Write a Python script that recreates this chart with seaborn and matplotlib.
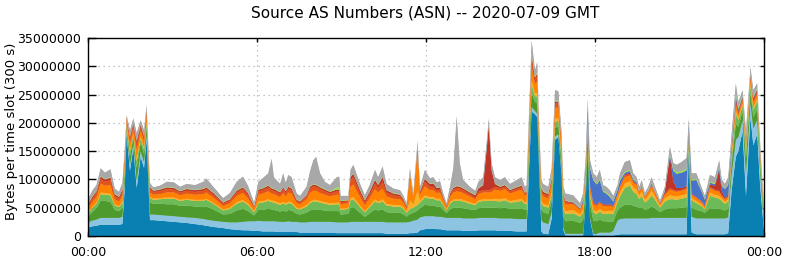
import numpy as np
import pandas as pd
import matplotlib
matplotlib.use("Agg")
import matplotlib.pyplot as plt
import seaborn as sns
import seaborn.objects as so

# time of each sample (hours since 00:00 GMT)
hours = [0.00, 0.15, 0.30, 0.45, 0.60, 0.80, 0.95, 1.10, 1.22, 1.30,
         1.37, 1.49, 1.61, 1.73, 1.87, 1.99, 2.08, 2.20, 2.32, 2.56,
         2.80, 3.05, 3.27, 3.50, 3.80, 4.10, 4.20, 4.45, 4.80, 5.04,
         5.28, 5.50, 5.68, 5.90, 6.05, 6.20, 6.40, 6.52, 6.60, 6.82,
         6.93, 7.02, 7.11, 7.23, 7.41, 7.53, 7.76, 7.88, 8.00, 8.10,
         8.24, 8.41, 8.59, 8.83, 8.92, 8.97, 9.24, 9.32, 9.42, 9.66,
         9.83, 10.00, 10.19, 10.30, 10.46, 10.60, 10.84, 11.08, 11.20, 11.31,
         11.43, 11.55, 11.70, 11.79, 11.96, 12.14, 12.26, 12.38, 12.50, 12.61,
         12.73, 12.85, 12.97, 13.09, 13.20, 13.32, 13.56, 13.75, 13.86, 14.03,
         14.15, 14.23, 14.33, 14.45, 14.63, 14.80, 14.98, 15.22, 15.40, 15.51,
         15.57, 15.66, 15.75, 15.87, 15.95, 16.03, 16.10, 16.16, 16.34, 16.46,
         16.58, 16.70, 16.81, 16.88, 16.95, 17.23, 17.47, 17.58, 17.67, 17.74,
         17.82, 17.94, 18.06, 18.17, 18.29, 18.41, 18.53, 18.65, 18.80, 18.89,
         19.06, 19.24, 19.36, 19.48, 19.57, 19.66, 19.77, 19.89, 20.01, 20.13,
         20.31, 20.48, 20.66, 20.78, 20.90, 21.08, 21.25, 21.33, 21.43, 21.60,
         21.78, 21.90, 22.08, 22.26, 22.41, 22.50, 22.61, 22.73, 22.85, 23.00,
         23.09, 23.24, 23.36, 23.52, 23.62, 23.76, 23.86, 24.00]

# bytes per slot, in millions, one list per source AS (bottom to top of stack)
as_dark_blue = [1.5, 1.7, 1.8, 2.0, 2.0, 2.0, 2.0, 2.0, 2.1, 8.0,
                18.0, 11.5, 15.5, 8.5, 14.0, 12.0, 17.0, 2.8, 2.8, 2.7,
                2.6, 2.5, 2.4, 2.3, 2.1, 1.9, 1.8, 1.6, 1.4, 1.2,
                1.1, 1.0, 1.0, 0.9, 0.9, 0.8, 0.8, 0.8, 0.8, 0.7,
                0.7, 0.7, 0.8, 0.7, 0.7, 0.6, 0.6, 0.6, 0.6, 0.6,
                0.6, 0.6, 0.6, 0.5, 0.5, 0.5, 0.5, 0.5, 0.5, 0.5,
                0.5, 0.5, 0.5, 0.5, 0.5, 0.4, 0.4, 0.4, 0.4, 0.4,
                0.5, 0.5, 0.6, 1.0, 1.2, 1.3, 1.3, 1.2, 1.2, 1.1,
                1.0, 1.0, 1.0, 1.0, 1.0, 0.9, 0.9, 0.9, 1.0, 1.0,
                1.0, 1.0, 1.0, 1.0, 0.9, 0.9, 0.9, 0.8, 0.8, 0.8,
                0.8, 12.0, 22.0, 21.5, 21.0, 10.0, 0.8, 0.4, 0.3, 3.0,
                17.0, 17.5, 11.0, 1.0, 0.1, 0.1, 0.1, 0.1, 6.0, 15.0,
                3.0, 0.1, 0.1, 0.1, 0.1, 0.1, 0.1, 0.1, 0.2, 0.3,
                0.3, 0.3, 0.3, 0.3, 0.3, 0.3, 0.3, 0.3, 0.3, 0.3,
                0.3, 0.3, 0.3, 0.3, 0.3, 0.3, 0.3, 15.0, 0.6, 0.3,
                0.3, 0.3, 0.3, 0.3, 0.3, 0.3, 0.3, 0.5, 8.0, 14.0,
                15.0, 18.5, 7.0, 21.0, 16.0, 18.0, 9.0, 1.0]
as_light_blue = [0.9, 1.0, 1.1, 1.2, 1.2, 1.2, 1.2, 1.2, 1.3, 1.3,
                 0.6, 1.0, 0.8, 1.3, 1.0, 1.0, 0.9, 1.0, 1.0, 1.0,
                 1.0, 1.0, 1.0, 1.0, 1.1, 1.1, 1.1, 1.1, 1.1, 1.2,
                 1.3, 1.5, 1.6, 1.7, 1.8, 1.8, 1.8, 1.8, 1.8, 1.8,
                 1.8, 1.8, 1.8, 1.8, 1.8, 1.8, 1.8, 1.9, 1.9, 1.9,
                 1.9, 1.9, 1.9, 1.9, 1.9, 1.9, 1.9, 2.0, 2.0, 2.0,
                 2.0, 2.0, 2.0, 2.0, 2.0, 2.0, 2.0, 2.0, 2.0, 2.0,
                 2.0, 2.2, 2.3, 2.3, 2.3, 2.2, 2.2, 2.2, 2.2, 2.2,
                 2.2, 2.2, 2.2, 2.2, 2.2, 2.2, 2.2, 2.2, 2.2, 2.2,
                 2.2, 2.2, 2.2, 2.2, 2.2, 2.2, 2.2, 2.2, 2.2, 2.2,
                 2.2, 1.5, 0.8, 0.6, 0.6, 1.0, 2.0, 2.0, 1.8, 1.2,
                 0.6, 0.5, 0.5, 0.4, 0.3, 0.3, 0.3, 0.3, 0.3, 0.3,
                 0.3, 0.3, 0.3, 0.5, 0.5, 0.5, 0.5, 0.8, 2.5, 2.7,
                 2.8, 2.8, 2.8, 2.8, 2.8, 2.8, 2.8, 2.8, 2.9, 2.9,
                 2.9, 2.9, 2.9, 2.9, 2.9, 2.9, 2.9, 0.5, 2.8, 2.8,
                 2.8, 2.8, 2.8, 2.8, 2.8, 2.8, 2.8, 2.8, 2.8, 3.0,
                 2.5, 2.0, 4.0, 2.5, 3.0, 2.5, 2.5, 1.0]
as_dark_green = [1.0, 1.5, 2.0, 3.0, 3.0, 2.8, 1.4, 1.2, 1.5, 1.6,
                 0.6, 1.5, 1.0, 2.2, 1.5, 1.5, 1.3, 2.1, 1.9, 2.0,
                 2.0, 2.1, 1.9, 2.1, 2.0, 2.1, 2.3, 2.0, 1.3, 1.5,
                 2.1, 2.3, 1.8, 1.0, 1.9, 2.0, 2.2, 2.1, 2.0, 1.8,
                 2.0, 1.8, 2.0, 2.0, 1.4, 1.4, 1.7, 2.0, 2.2, 2.2,
                 2.1, 2.0, 1.9, 2.0, 2.0, 1.4, 1.5, 2.5, 2.6, 1.6,
                 0.9, 1.5, 2.2, 2.0, 2.2, 1.8, 1.7, 1.7, 1.4, 1.0,
                 1.4, 1.4, 1.6, 1.6, 2.0, 1.9, 1.9, 1.8, 1.8, 1.3,
                 0.8, 1.5, 1.8, 1.8, 1.8, 1.8, 1.6, 1.5, 1.7, 1.8,
                 1.8, 1.8, 1.8, 1.8, 1.8, 1.9, 1.7, 1.8, 1.9, 1.6,
                 1.6, 2.0, 2.5, 1.6, 1.8, 1.8, 1.9, 1.8, 1.8, 1.9,
                 1.5, 1.4, 1.5, 2.0, 2.2, 2.3, 1.9, 2.4, 2.4, 2.4,
                 2.4, 2.3, 2.2, 2.3, 2.0, 2.0, 1.9, 1.7, 1.8, 2.0,
                 2.4, 2.5, 2.2, 2.1, 1.8, 2.0, 1.5, 1.7, 2.0, 1.7,
                 1.0, 1.5, 1.7, 1.7, 1.7, 1.8, 1.9, 1.0, 1.6, 1.5,
                 1.3, 1.0, 1.8, 1.7, 1.7, 1.6, 1.4, 1.5, 1.8, 2.8,
                 1.8, 1.5, 2.5, 1.8, 2.0, 2.0, 1.6, 1.0]
as_light_green = [0.6, 0.7, 0.8, 1.2, 1.1, 1.2, 0.8, 0.7, 0.9, 0.9,
                  0.4, 0.9, 0.6, 1.2, 0.8, 0.8, 0.8, 0.8, 0.7, 0.8,
                  1.0, 1.0, 0.9, 1.0, 1.0, 1.1, 1.2, 1.0, 0.7, 0.9,
                  1.2, 1.3, 1.1, 0.6, 1.2, 1.3, 1.4, 1.3, 1.3, 1.2,
                  1.3, 1.2, 1.2, 1.2, 0.9, 0.9, 1.1, 1.3, 1.4, 1.4,
                  1.3, 1.2, 1.1, 1.2, 1.2, 0.8, 0.9, 1.3, 1.4, 1.0,
                  0.8, 1.1, 1.4, 1.3, 1.4, 1.2, 1.1, 1.1, 1.0, 0.7,
                  0.9, 0.9, 1.0, 1.0, 1.3, 1.2, 1.2, 1.1, 1.1, 0.9,
                  0.5, 1.0, 1.2, 1.2, 1.2, 1.2, 1.0, 0.9, 1.1, 1.2,
                  1.2, 1.2, 1.2, 1.2, 1.2, 1.3, 1.1, 1.2, 1.3, 1.0,
                  1.1, 1.2, 1.5, 1.0, 1.2, 1.1, 1.1, 1.1, 1.1, 1.1,
                  1.0, 1.0, 1.0, 1.3, 1.3, 1.3, 1.1, 1.4, 1.4, 1.5,
                  1.4, 1.4, 1.3, 1.4, 1.3, 1.3, 1.4, 1.3, 1.5, 2.0,
                  3.0, 3.3, 2.5, 2.2, 1.6, 2.0, 1.3, 1.6, 2.0, 1.5,
                  0.8, 1.4, 1.6, 1.6, 1.5, 1.6, 1.7, 0.9, 1.3, 1.2,
                  0.9, 0.6, 2.2, 2.0, 1.8, 1.5, 1.2, 1.3, 1.2, 1.8,
                  1.2, 1.0, 1.5, 1.2, 1.3, 1.3, 1.0, 0.6]
as_gold = [0.2, 0.2, 0.2, 0.3, 0.3, 0.3, 0.2, 0.2, 0.3, 0.3,
           0.2, 0.3, 0.2, 0.4, 0.3, 0.3, 0.3, 0.2, 0.2, 0.2,
           0.2, 0.2, 0.2, 0.2, 0.2, 0.2, 0.2, 0.2, 0.2, 0.2,
           0.3, 0.3, 0.2, 0.2, 0.3, 0.3, 0.3, 0.3, 0.3, 0.3,
           0.3, 0.3, 0.3, 0.3, 0.2, 0.2, 0.3, 0.3, 0.3, 0.3,
           0.3, 0.3, 0.3, 0.3, 0.3, 0.2, 0.2, 0.4, 0.4, 0.3,
           0.2, 0.3, 0.4, 0.3, 0.4, 0.3, 0.3, 0.3, 0.3, 0.2,
           1.5, 0.6, 2.5, 0.4, 0.4, 0.3, 0.3, 0.3, 0.3, 0.2,
           0.2, 0.3, 0.3, 0.3, 0.3, 0.3, 0.3, 0.2, 0.3, 0.3,
           0.3, 0.3, 0.3, 0.4, 0.4, 0.4, 0.3, 0.4, 0.4, 0.3,
           0.3, 0.5, 0.8, 0.6, 0.7, 0.5, 0.4, 0.4, 0.4, 0.5,
           0.6, 0.5, 0.5, 0.5, 0.5, 0.6, 0.4, 0.5, 0.5, 0.6,
           0.5, 0.5, 0.5, 0.5, 0.5, 0.5, 0.6, 0.5, 0.6, 0.7,
           0.8, 0.8, 0.8, 0.8, 0.6, 0.8, 0.5, 0.7, 0.8, 0.6,
           0.3, 0.6, 0.7, 0.6, 0.6, 0.6, 0.6, 0.4, 0.4, 0.4,
           0.3, 0.2, 0.6, 0.5, 0.5, 0.4, 0.4, 0.4, 0.4, 0.6,
           0.4, 0.4, 0.5, 0.5, 0.5, 0.5, 0.4, 0.2]
as_orange = [0.7, 0.9, 1.0, 1.6, 1.3, 1.5, 0.9, 0.8, 1.0, 1.0,
             0.6, 1.2, 0.9, 1.6, 1.1, 1.1, 1.1, 0.8, 0.7, 0.7,
             0.9, 0.9, 0.8, 0.9, 0.9, 1.0, 1.1, 0.9, 0.6, 0.8,
             1.1, 1.2, 1.0, 0.5, 1.2, 1.3, 1.4, 1.2, 1.2, 1.1,
             1.5, 1.2, 1.6, 1.5, 0.8, 0.7, 1.0, 1.5, 1.6, 1.6,
             1.4, 1.3, 1.2, 1.4, 1.4, 0.8, 0.8, 2.0, 2.2, 1.5,
             1.0, 1.3, 1.8, 1.6, 1.9, 1.3, 1.1, 1.0, 0.8, 0.5,
             4.5, 1.0, 7.0, 1.0, 1.6, 1.2, 1.2, 1.0, 1.1, 0.7,
             0.4, 0.9, 1.2, 1.4, 1.3, 1.2, 1.0, 0.8, 1.1, 1.2,
             1.2, 1.2, 1.3, 1.6, 1.5, 1.6, 1.3, 1.5, 1.6, 1.2,
             1.3, 1.8, 2.5, 1.6, 2.0, 1.5, 1.4, 1.3, 1.2, 1.6,
             2.0, 1.8, 1.8, 1.5, 1.2, 1.0, 0.8, 1.0, 1.0, 1.2,
             1.0, 1.0, 0.9, 1.0, 0.9, 0.9, 0.8, 0.7, 0.7, 0.9,
             1.1, 1.0, 0.8, 0.8, 0.5, 0.7, 0.4, 0.6, 0.8, 0.6,
             0.3, 0.6, 1.0, 0.9, 0.8, 0.8, 0.9, 0.6, 0.6, 0.5,
             0.4, 0.3, 0.8, 0.7, 0.7, 0.5, 0.4, 0.4, 0.6, 1.0,
             0.6, 0.6, 0.8, 0.8, 0.8, 0.8, 0.6, 0.4]
as_red_orange = [0.5, 0.6, 0.7, 0.8, 0.7, 0.9, 0.6, 0.5, 0.7, 0.7,
                 0.4, 0.8, 0.6, 1.1, 0.7, 0.7, 0.6, 0.6, 0.5, 0.5,
                 0.6, 0.5, 0.5, 0.5, 0.5, 0.6, 0.6, 0.5, 0.4, 0.5,
                 0.6, 0.7, 0.6, 0.3, 0.6, 0.6, 0.7, 0.6, 0.6, 0.5,
                 0.7, 0.6, 0.7, 0.6, 0.4, 0.3, 0.5, 0.8, 0.8, 0.7,
                 0.7, 0.6, 0.5, 0.6, 0.6, 0.4, 0.3, 1.2, 1.3, 0.8,
                 0.6, 0.7, 1.0, 0.8, 1.2, 0.7, 0.6, 0.5, 0.4, 0.3,
                 0.2, 0.2, 0.5, 0.4, 0.8, 0.6, 0.6, 0.5, 0.5, 0.3,
                 0.2, 0.4, 0.5, 0.6, 0.6, 0.5, 0.4, 0.3, 0.4, 0.4,
                 0.4, 0.4, 0.5, 0.5, 0.4, 0.4, 0.4, 0.4, 0.4, 0.3,
                 0.4, 0.8, 1.5, 0.8, 1.0, 0.7, 0.6, 0.5, 0.5, 0.6,
                 0.8, 0.7, 0.7, 0.5, 0.4, 0.2, 0.1, 0.2, 0.2, 0.3,
                 0.2, 0.2, 0.2, 0.2, 0.2, 0.2, 0.2, 0.1, 0.1, 0.2,
                 0.3, 0.3, 0.2, 0.2, 0.1, 0.2, 0.1, 0.1, 0.2, 0.1,
                 0.1, 0.2, 0.3, 0.2, 0.2, 0.2, 0.2, 0.2, 0.1, 0.1,
                 0.1, 0.1, 0.2, 0.2, 0.2, 0.1, 0.1, 0.1, 0.2, 0.5,
                 0.3, 0.3, 0.4, 0.4, 0.4, 0.4, 0.3, 0.2]
as_dark_red = [0.2, 0.3, 0.3, 0.4, 0.4, 0.4, 0.3, 0.3, 0.4, 0.4,
               0.2, 0.4, 0.3, 0.5, 0.3, 0.3, 0.3, 0.3, 0.2, 0.3,
               0.3, 0.3, 0.2, 0.3, 0.3, 0.3, 0.3, 0.3, 0.2, 0.2,
               0.3, 0.3, 0.3, 0.1, 0.3, 0.3, 0.3, 0.3, 0.3, 0.3,
               0.3, 0.3, 0.3, 0.3, 0.2, 0.2, 0.2, 0.3, 0.3, 0.3,
               0.3, 0.3, 0.3, 0.3, 0.3, 0.2, 0.2, 0.5, 0.6, 0.4,
               0.3, 0.4, 0.6, 0.5, 0.8, 0.4, 0.3, 0.3, 0.2, 0.2,
               0.2, 0.1, 0.3, 0.2, 0.5, 0.5, 0.6, 0.4, 0.4, 0.2,
               0.1, 0.2, 0.3, 0.3, 0.3, 0.3, 0.3, 0.4, 0.6, 0.9,
               7.0, 11.5, 3.3, 0.5, 0.3, 0.3, 0.2, 0.3, 0.3, 0.2,
               0.2, 0.3, 0.5, 0.3, 0.4, 0.3, 0.3, 0.3, 0.3, 0.3,
               0.3, 0.3, 0.3, 0.2, 0.2, 0.1, 0.1, 0.1, 0.1, 0.2,
               0.2, 0.1, 0.1, 0.1, 0.1, 0.1, 0.1, 0.1, 0.1, 0.1,
               0.2, 0.2, 0.1, 0.1, 0.1, 0.1, 0.1, 0.1, 0.1, 0.1,
               0.1, 0.3, 5.5, 1.5, 0.5, 0.3, 0.3, 0.2, 0.1, 0.1,
               0.1, 0.1, 0.4, 0.7, 3.6, 0.8, 0.2, 0.2, 0.3, 0.6,
               0.3, 0.3, 0.3, 0.3, 0.3, 0.3, 0.2, 0.1]
as_blue = [0.0, 0.0, 0.0, 0.0, 0.0, 0.0, 0.0, 0.0, 0.0, 0.0,
           0.0, 0.0, 0.0, 0.0, 0.0, 0.0, 0.0, 0.0, 0.0, 0.0,
           0.0, 0.0, 0.0, 0.0, 0.0, 0.0, 0.0, 0.0, 0.0, 0.0,
           0.0, 0.0, 0.0, 0.0, 0.0, 0.0, 0.0, 0.0, 0.0, 0.0,
           0.0, 0.0, 0.0, 0.0, 0.0, 0.0, 0.0, 0.0, 0.0, 0.0,
           0.0, 0.0, 0.0, 0.0, 0.0, 0.0, 0.0, 0.0, 0.0, 0.0,
           0.0, 0.0, 0.0, 0.0, 0.0, 0.0, 0.0, 0.0, 0.0, 0.0,
           0.0, 0.0, 0.0, 0.0, 0.0, 0.0, 0.0, 0.0, 0.0, 0.0,
           0.0, 0.0, 0.0, 0.0, 0.0, 0.0, 0.0, 0.0, 0.0, 0.0,
           0.0, 0.0, 0.0, 0.0, 0.0, 0.0, 0.0, 0.0, 0.0, 0.0,
           0.0, 0.0, 0.0, 0.0, 0.0, 0.0, 0.0, 0.0, 0.0, 0.0,
           0.0, 0.0, 0.0, 0.0, 0.0, 0.1, 0.1, 0.4, 0.8, 1.5,
           3.0, 4.0, 3.5, 3.8, 2.2, 1.9, 1.3, 0.8, 0.6, 0.9,
           0.3, 0.3, 0.3, 0.2, 0.1, 0.1, 0.1, 0.1, 0.2, 0.1,
           0.1, 0.2, 0.3, 1.8, 2.5, 2.7, 2.8, 1.0, 2.3, 3.0,
           1.7, 1.0, 0.3, 0.3, 0.5, 0.9, 1.5, 1.8, 0.8, 0.5,
           0.3, 0.2, 0.3, 0.2, 0.2, 0.2, 0.2, 0.1]
as_lime = [0.1, 0.1, 0.1, 0.1, 0.1, 0.1, 0.1, 0.1, 0.1, 0.1,
           0.1, 0.1, 0.1, 0.1, 0.1, 0.1, 0.1, 0.1, 0.1, 0.1,
           0.1, 0.1, 0.1, 0.1, 0.1, 0.1, 0.1, 0.1, 0.1, 0.1,
           0.1, 0.1, 0.1, 0.1, 0.1, 0.1, 0.1, 0.1, 0.1, 0.1,
           0.1, 0.1, 0.1, 0.1, 0.1, 0.1, 0.1, 0.1, 0.1, 0.1,
           0.1, 0.1, 0.1, 0.4, 0.4, 0.1, 0.1, 0.1, 0.1, 0.1,
           0.1, 0.1, 0.1, 0.1, 0.1, 0.1, 0.1, 0.1, 0.1, 0.1,
           0.1, 0.1, 0.1, 0.1, 0.1, 0.1, 0.1, 0.1, 0.1, 0.1,
           0.1, 0.1, 0.1, 0.1, 0.1, 0.1, 0.1, 0.1, 0.1, 0.1,
           0.1, 0.2, 0.1, 0.1, 0.1, 0.1, 0.1, 0.1, 0.1, 0.1,
           0.1, 0.2, 0.3, 0.2, 0.3, 0.1, 0.2, 0.2, 0.1, 0.2,
           0.2, 0.2, 0.2, 0.1, 0.1, 0.1, 0.1, 0.1, 0.1, 0.2,
           0.2, 0.2, 0.2, 0.2, 0.2, 0.2, 0.2, 0.1, 0.1, 0.2,
           0.2, 0.2, 0.2, 0.1, 0.1, 0.1, 0.1, 0.1, 0.1, 0.1,
           0.1, 0.1, 0.2, 0.3, 0.3, 0.3, 0.3, 0.2, 0.2, 0.2,
           0.1, 0.1, 0.2, 0.2, 0.2, 0.2, 0.1, 0.2, 0.2, 0.4,
           0.3, 0.2, 0.2, 0.2, 0.2, 0.2, 0.2, 0.1]
as_gray = [0.8, 1.0, 1.0, 1.4, 1.1, 1.4, 0.9, 0.8, 1.1, 0.7,
           0.3, 1.0, 0.8, 1.3, 0.7, 0.9, 0.8, 0.7, 0.5, 0.6,
           0.9, 0.9, 0.7, 0.8, 0.8, 1.2, 1.5, 1.0, 0.7, 1.0,
           1.5, 1.8, 1.2, 0.5, 1.3, 1.7, 2.1, 5.2, 2.0, 1.4,
           2.4, 1.4, 2.0, 1.9, 1.0, 0.9, 1.4, 2.6, 4.2, 4.9,
           2.4, 1.3, 1.1, 1.8, 1.9, 0.8, 0.7, 1.2, 1.5, 1.0,
           0.8, 1.1, 1.7, 1.3, 1.8, 1.0, 0.8, 0.7, 0.5, 0.4,
           0.7, 0.6, 0.9, 0.7, 1.5, 0.9, 1.0, 0.9, 1.0, 0.6,
           0.3, 1.1, 3.4, 12.3, 4.1, 1.4, 0.9, 0.7, 1.1, 1.3,
           1.2, 1.0, 1.2, 1.1, 1.1, 1.3, 1.0, 1.2, 1.4, 1.0,
           1.0, 1.7, 2.2, 1.1, 1.8, 1.0, 1.3, 1.2, 1.2, 1.6,
           1.8, 1.7, 1.2, 1.2, 1.2, 1.1, 0.8, 1.1, 1.2, 1.1,
           1.3, 1.0, 1.1, 1.6, 1.0, 1.0, 1.0, 0.9, 0.8, 1.1,
           1.7, 1.7, 0.9, 0.8, 0.7, 0.8, 0.4, 0.6, 1.0, 0.7,
           0.3, 0.6, 1.3, 1.1, 1.3, 1.6, 1.9, 0.8, 1.1, 1.0,
           0.7, 0.6, 1.2, 1.0, 1.1, 0.9, 0.8, 1.2, 1.8, 1.8,
           1.0, 0.8, 1.2, 1.0, 1.1, 0.8, 0.8, 0.6]

series_names = ["AS 1", "AS 2", "AS 3", "AS 4", "AS 5", "AS 6",
                "AS 7", "AS 8", "AS 9", "AS 10", "AS 11"]
series_values = [as_dark_blue, as_light_blue, as_dark_green, as_light_green,
                 as_gold, as_orange, as_red_orange, as_dark_red, as_blue,
                 as_lime, as_gray]
series_colors = ["#0a7fb2", "#8cc4e2", "#4f9a2c", "#6dbb58", "#f7b22a",
                 "#ff8300", "#e2541a", "#c0352a", "#4873c8", "#98dc4c",
                 "#a8a8a8"]

x_tick_hours = [0, 6, 12, 18, 24]
x_tick_labels = ["00:00", "06:00", "12:00", "18:00", "00:00"]
y_ticks = [0, 5000000, 10000000, 15000000, 20000000, 25000000, 30000000, 35000000]

frames = []
for name, vals in zip(series_names, series_values):
    frames.append(pd.DataFrame({"hour": hours, "series": name,
                                "bytes": np.asarray(vals) * 1e6}))
df = pd.concat(frames, ignore_index=True)
df["series"] = pd.Categorical(df["series"], categories=series_names, ordered=True)

sns.set_theme(style="white")
plt.rcParams["font.family"] = ["DejaVu Sans"]

fig = plt.figure(figsize=(7.86, 2.61), dpi=100)
ax = fig.add_axes([88 / 786, 25 / 261, 676 / 786, 198 / 261])

(
    so.Plot(df, x="hour", y="bytes", color="series")
    .add(so.Area(alpha=1, edgewidth=0.5), so.Stack(), legend=False)
    .scale(color=so.Nominal(series_colors, order=series_names))
    .on(ax)
    .plot()
)

ax.set_facecolor("white")
ax.set_xlim(0, 24)
ax.set_ylim(0, 35000000)
ax.set_xticks(x_tick_hours)
ax.set_xticklabels(x_tick_labels)
ax.set_yticks(y_ticks)
ax.set_yticklabels([str(v) for v in y_ticks])
ax.set_xlabel("")
ax.set_ylabel("")
ax.grid(False)
# dotted grid drawn behind the stacked areas
for yv in y_ticks[1:-1]:
    ax.axhline(yv, linestyle=(0, (1, 3)), color="#b4b4b4", linewidth=0.9, zorder=0.2)
for xv in x_tick_hours[1:-1]:
    ax.axvline(xv, linestyle=(0, (1, 3)), color="#b4b4b4", linewidth=0.9, zorder=0.2)
for s in ax.spines.values():
    s.set_color("black")
    s.set_linewidth(1.0)
    s.set_visible(True)
    s.set_zorder(5)
ax.tick_params(direction="in", top=True, right=True, bottom=True, left=True,
               length=3.2, width=1, color="black", labelsize=9,
               labelcolor="black")
ax.tick_params(axis="y", which="major", left=True, pad=5)
ax.yaxis.set_tick_params(length=3.2)
for t in ax.yaxis.get_major_ticks():
    t.tick1line.set_markersize(5.5)
ax.tick_params(axis="x", pad=7)

fig.text(425 / 786, 1 - 13 / 261, "Source AS Numbers (ASN) -- 2020-07-09 GMT",
         ha="center", va="center", fontsize=11, color="black")
fig.text(12 / 786, 1 - 131 / 261, "Bytes per time slot (300 s)",
         ha="center", va="center", rotation=90, fontsize=9.5, color="black")

fig.savefig("out.png", dpi=100)
